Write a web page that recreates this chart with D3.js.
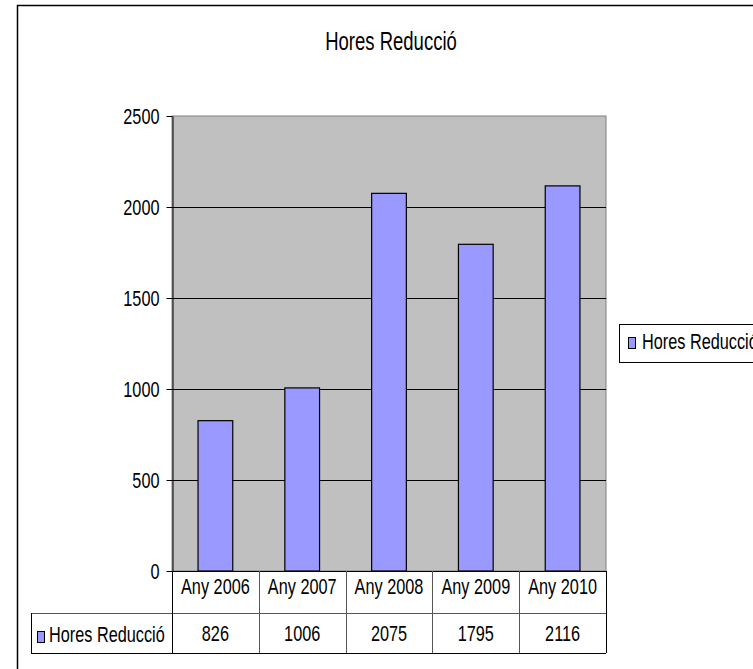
<!DOCTYPE html>
<html>
<head>
<meta charset="utf-8">
<script src="https://cdn.jsdelivr.net/npm/d3@7"></script>
<style>
  body { margin: 0; background: #fff; }
  text { font-family: "Liberation Sans", Arial, sans-serif; fill: #000; }
</style>
</head>
<body>
<div id="chart"></div>
<script>
// data
let categories = ["Any 2006", "Any 2007", "Any 2008", "Any 2009", "Any 2010"];
let values = [826, 1006, 2075, 1795, 2116];
let yTicks = [0, 500, 1000, 1500, 2000, 2500];
let seriesName = "Hores Reducció";
let title = "Hores Reducció";

let W = 753, H = 669;
let plot = {left: 172, top: 116, right: 606, bottom: 571};
let sx = 0.74; // glyphs in the picture are narrow

const svg = d3.select("#chart")
  .append("svg")
    .attr("width", W)
    .attr("height", H);

// squeezed text helper
function label(g, x, y, str, size, anchor) {
  return g.append("text")
    .attr("transform", "translate(" + x + "," + y + ") scale(" + sx + ",1)")
    .attr("text-anchor", anchor || "middle")
    .style("font-size", size + "px")
    .text(str);
}

// outer chart frame (right / bottom run off the page)
svg.append("rect")
  .attr("x", 17.5).attr("y", 5.5)
  .attr("width", 800).attr("height", 700)
  .attr("fill", "#fff")
  .attr("stroke", "#000")
  .attr("stroke-width", 1.5);

let x = d3.scaleBand()
  .domain(categories)
  .range([plot.left, plot.right])
  .paddingInner(0.6)
  .paddingOuter(0.3);
let band = d3.scaleBand()
  .domain(categories)
  .range([plot.left, plot.right]);

let y = d3.scaleLinear()
  .domain([0, 2500])
  .range([plot.bottom, plot.top]);

// plot area
svg.append("rect")
  .attr("x", plot.left).attr("y", plot.top)
  .attr("width", plot.right - plot.left)
  .attr("height", plot.bottom - plot.top)
  .attr("fill", "#c0c0c0")
  .attr("stroke", "#808080");

// gridlines
svg.selectAll(".grid")
  .data(yTicks.filter(d => d > 0 && d < 2500))
  .enter()
  .append("line")
    .attr("x1", plot.left).attr("x2", plot.right)
    .attr("y1", d => y(d) + 0.5).attr("y2", d => y(d) + 0.5)
    .attr("stroke", "#000");

// bars
svg.selectAll(".bar")
  .data(values)
  .enter()
  .append("rect")
    .attr("x", (d, i) => x(categories[i]))
    .attr("y", d => y(d))
    .attr("width", x.bandwidth())
    .attr("height", d => y(0) - y(d))
    .attr("fill", "#9999ff")
    .attr("stroke", "#000")
    .attr("stroke-width", 1.2);

// y axis
let yAxis = svg.append("g")
  .attr("transform", "translate(" + (plot.left + 0.5) + ",0)")
  .call(d3.axisLeft(y).tickValues(yTicks).tickFormat(d3.format("d")).tickSize(6).tickSizeOuter(0));
yAxis.select(".domain").attr("stroke", "#000");
yAxis.selectAll(".tick line").attr("stroke", "#000");
yAxis.selectAll(".tick text")
  .attr("x", -13 / sx)
  .attr("dy", "0.33em")
  .attr("transform", "scale(" + sx + ",1)")
  .style("font-size", "22px")
  .style("font-family", "'Liberation Sans', Arial, sans-serif")
  .attr("fill", "#000");

// data table under the plot
let rowTop = plot.bottom, rowMid = 613, rowBot = 653, tableLeft = 31;
let tbl = svg.append("g");

tbl.append("line")
  .attr("x1", plot.left).attr("x2", plot.right)
  .attr("y1", rowTop + 0.5).attr("y2", rowTop + 0.5)
  .attr("stroke", "#000");
tbl.append("line")
  .attr("x1", tableLeft).attr("x2", plot.right)
  .attr("y1", rowMid + 0.5).attr("y2", rowMid + 0.5)
  .attr("stroke", "#555");
tbl.append("line")
  .attr("x1", tableLeft).attr("x2", plot.right)
  .attr("y1", rowBot + 0.5).attr("y2", rowBot + 0.5)
  .attr("stroke", "#000");
tbl.append("line")
  .attr("x1", tableLeft + 0.5).attr("x2", tableLeft + 0.5)
  .attr("y1", rowMid).attr("y2", rowBot)
  .attr("stroke", "#000");

let edges = categories.map(c => band(c)).concat([plot.right]);
tbl.selectAll(".vline")
  .data(edges)
  .enter()
  .append("line")
    .attr("x1", d => Math.round(d) + 0.5).attr("x2", d => Math.round(d) + 0.5)
    .attr("y1", rowTop).attr("y2", rowBot)
    .attr("stroke", (d, i) => (i === 0 || i === edges.length - 1) ? "#000" : "#555");

categories.forEach(function(c, i) {
  let cx = band(c) + band.bandwidth() / 2;
  label(tbl, cx, 594, c, 22);
  label(tbl, cx, 641, values[i], 22);
});

tbl.append("rect")
  .attr("x", 37.5).attr("y", 631.5)
  .attr("width", 7).attr("height", 11)
  .attr("fill", "#9999ff")
  .attr("stroke", "#000");
label(tbl, 49, 642, seriesName, 22, "start");

// title
label(svg, 391, 50, title, 25);

// legend
let lg = svg.append("g");
lg.append("rect")
  .attr("x", 619.5).attr("y", 324.5)
  .attr("width", 200).attr("height", 38)
  .attr("fill", "#fff")
  .attr("stroke", "#000");
lg.append("rect")
  .attr("x", 628.5).attr("y", 337.5)
  .attr("width", 7).attr("height", 11)
  .attr("fill", "#9999ff")
  .attr("stroke", "#000");
label(lg, 642, 349, seriesName, 22, "start");
</script>
</body>
</html>
